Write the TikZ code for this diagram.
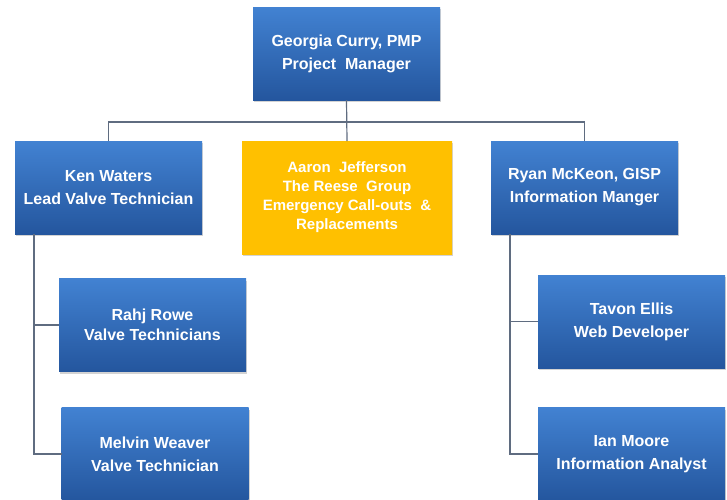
\documentclass[tikz,border=0pt]{standalone}
\usepackage{fontspec}
\setmainfont{Liberation Sans}
\usetikzlibrary{positioning,shadows}
\definecolor{boxtop}{RGB}{66,130,210}
\definecolor{boxbot}{RGB}{36,86,158}
\definecolor{gold}{RGB}{255,192,0}
\definecolor{linkgray}{RGB}{95,108,128}
\begin{document}
\begin{tikzpicture}[x=1pt,y=-1pt,every node/.style={outer sep=0pt},
 person/.style={draw=none,minimum width=187pt,minimum height=93pt,
 top color=boxtop,bottom color=boxbot,text=white,align=center,
 font=\bfseries\fontsize{16}{23}\selectfont,
 drop shadow={shadow xshift=1pt,shadow yshift=-2pt,opacity=0.35}},
 vendor/.style={person,top color=gold,bottom color=gold,
 minimum width=210pt,minimum height=113pt,
 font=\bfseries\fontsize{15}{19}\selectfont},
 link/.style={draw=linkgray,line width=1.2pt}]
 \useasboundingbox (0,0) rectangle (727,499);

 \node[person] (pm) at (346.5,53.5) {Georgia Curry, PMP\\Project\ \ Manager};
 \node[person] (ken) at (108.5,187.5) {Ken Waters\\Lead Valve Technician};
 \node[vendor] (aaron) at (347,197.5) {Aaron\ \ Jefferson\\The Reese\ \ Group\\
  Emergency Call-outs\ \ \&\\Replacements};
 \node[person] (ryan) at (584.5,187.5) {Ryan McKeon, GISP\\Information Manger};

 \node[person,font=\bfseries\fontsize{16}{20}\selectfont] (rahj) at (152.5,325)
  {Rahj Rowe\\Valve Technicians};
 \node[person] (melvin) at (155,454) {Melvin Weaver\\Valve Technician};
 \node[person] (tavon) at (631.5,321.5) {Tavon Ellis\\Web Developer};
 \node[person] (ian) at (631.5,454) {Ian Moore\\Information Analyst};

 % top level bus
 \coordinate (bus) at (347,122);
 \draw[link] (pm.south) -- (aaron.north);
 \draw[link] (ken.north) -- (ken.north|-bus) -- (ryan.north|-bus) -- (ryan.north);

 % side spines
 \coordinate (kspine) at ([xshift=-74.5pt]ken.south);
 \draw[link] (kspine) |- (rahj.west);
 \draw[link] (kspine) |- (melvin.west);
 \coordinate (rspine) at ([xshift=-74.5pt]ryan.south);
 \draw[link] (rspine) |- (tavon.west);
 \draw[link] (rspine) |- (ian.west);
\end{tikzpicture}
\end{document}
